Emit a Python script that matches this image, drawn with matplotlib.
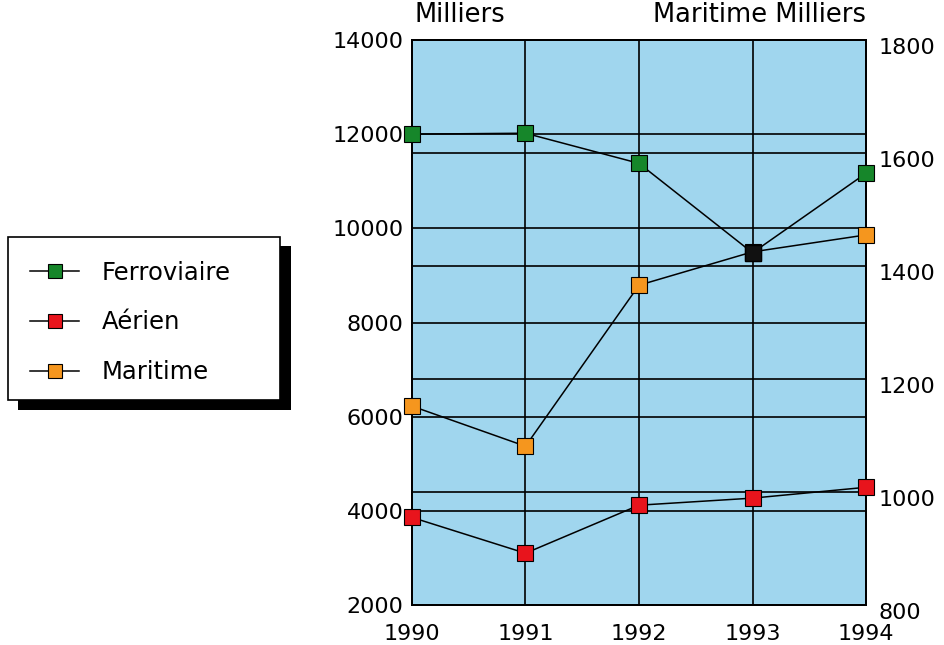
import matplotlib
matplotlib.use("Agg")
import matplotlib.pyplot as plt
from matplotlib.patches import Rectangle
from matplotlib.transforms import ScaledTranslation

# Données (milliers)
years = [1990, 1991, 1992, 1993, 1994]
ferroviaire = [12000, 12020, 11380, 9480, 11170]
aerien = [3860, 3100, 4120, 4270, 4500]
maritime = [1152, 1081, 1366, 1425, 1455]   # axe de droite
left_ticks = [2000, 4000, 6000, 8000, 10000, 12000, 14000]
right_ticks = [800, 1000, 1200, 1400, 1600, 1800]

bg = "#a0d6ee"
green = "#16862a"
red = "#e8141c"
orange = "#f5961e"
font = 16

plt.rcParams["font.family"] = ["DejaVu Sans"]

fig = plt.figure(figsize=(9.44, 6.45), dpi=100)
ax = fig.add_axes([0.4364, 0.062, 0.481, 0.876])
ax2 = ax.twinx()

ax.set_facecolor(bg)
ax.set_xlim(1990, 1994)
ax.set_ylim(2000, 14000)
ax2.set_ylim(800, 1800)
ax.set_xticks(years)
ax.set_yticks(left_ticks)
ax2.set_yticks(right_ticks)
ax.tick_params(axis="y", length=0, labelsize=font, pad=6)
ax.tick_params(axis="x", length=0, labelsize=font, pad=14)
ax2.tick_params(length=0, labelsize=font, pad=9)
# étiquettes de droite légèrement décalées vers le bas
shift = ScaledTranslation(0, -6 / 100, fig.dpi_scale_trans)
for lab in ax2.get_yticklabels():
    lab.set_transform(lab.get_transform() + shift)

ax.grid(True, color="black", linewidth=1.2)
ax2.grid(True, color="black", linewidth=1.2, axis="y")
for a in (ax, ax2):
    for s in a.spines.values():
        s.set_linewidth(1.4)
        s.set_color("black")

ax.set_zorder(1)
ax2.set_zorder(2)
ax2.patch.set_visible(False)

ms = 11.5
style = dict(color="black", lw=1.1, marker="s", ms=ms, mec="black", mew=0.8, clip_on=False)
ax2.plot(years, maritime, mfc=orange, zorder=3, **style)
# séries de l'axe gauche dessinées au-dessus de la grille de droite
ax2.plot(years, ferroviaire, mfc=green, zorder=4, transform=ax.transData, **style)
ax2.plot(years, aerien, mfc=red, zorder=4, transform=ax.transData, **style)
# point superposé 1993 (impression sombre)
ax2.plot(years[3], ferroviaire[3], marker="s", ms=ms, mfc="#111111",
         mec="black", zorder=5, transform=ax.transData, clip_on=False)

ax.text(0.005, 1.022, "Milliers", transform=ax.transAxes, fontsize=18.5,
        ha="left", va="bottom")
ax.text(1.0, 1.022, "Maritime Milliers", transform=ax.transAxes, fontsize=18.5,
        ha="right", va="bottom")

# Légende avec ombre noire
fig.patches.append(Rectangle((0.019, 0.365), 0.289, 0.253, transform=fig.transFigure,
                             facecolor="black", edgecolor="none", zorder=0))
fig.patches.append(Rectangle((0.0085, 0.380), 0.288, 0.253, transform=fig.transFigure,
                             facecolor="white", edgecolor="black", lw=1.2, zorder=1))
handles = [
    plt.Line2D([], [], color="black", lw=1.1, marker="s", ms=10, mfc=c, mec="black", mew=0.8)
    for c in (green, red, orange)
]
leg = fig.legend(handles, ["Ferroviaire", "Aérien", "Maritime"], loc="center left",
                 bbox_to_anchor=(0.032, 0.5), frameon=False, fontsize=17.5,
                 borderpad=0, borderaxespad=0,
                 handlelength=2.0, handletextpad=0.93, labelspacing=1.05)
leg.set_zorder(2)

fig.savefig("out.png", dpi=100)
